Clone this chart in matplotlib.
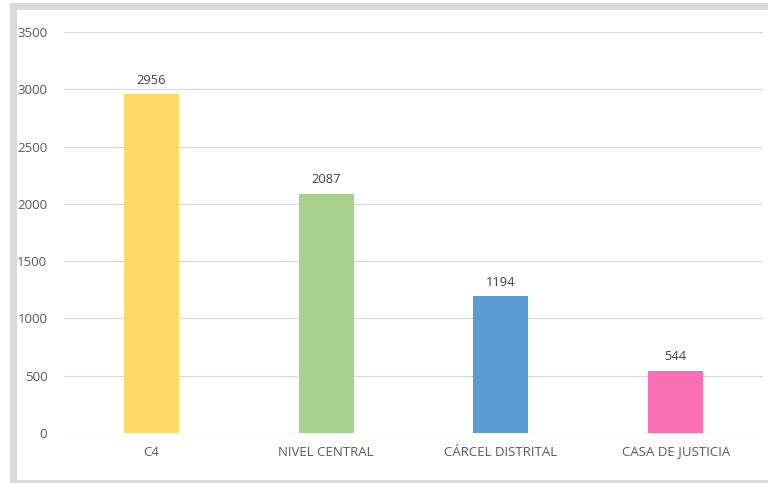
import matplotlib.pyplot as plt
from matplotlib.patches import Rectangle

plt.rcParams["font.family"] = ["Open Sans", "DejaVu Sans"]

categories = ["C4", "NIVEL CENTRAL", "CÁRCEL DISTRITAL", "CASA DE JUSTICIA"]
values = [2956, 2087, 1194, 544]
colors = ["#FFD966", "#A9D18E", "#5B9BD5", "#F96FB5"]
y_ticks = [0, 500, 1000, 1500, 2000, 2500, 3000, 3500]

W, H = 768, 483
fig = plt.figure(figsize=(W / 100, H / 100), dpi=100)
fig.patch.set_facecolor("white")

# grey frame around the plot area
fig.add_artist(Rectangle((10 / W, 0), 1, (H - 3) / H, transform=fig.transFigure,
                         facecolor="#D9D9D9", edgecolor="none", zorder=0))
fig.add_artist(Rectangle((17 / W, 3 / H), 1, (H - 13) / H, transform=fig.transFigure,
                         facecolor="white", edgecolor="none", zorder=0))

ax = fig.add_axes([64 / W, (H - 433) / H, (763 - 64) / W, (433 - 32) / H])
ax.set_facecolor("none")

x = range(len(categories))
ax.bar(x, values, width=0.315, color=colors, zorder=3)
for xi, v in zip(x, values):
    ax.text(xi, v + 65, str(v), ha="center", va="bottom", fontsize=9.3, color="#404040")

ax.set_xlim(-0.5, len(categories) - 0.5)
ax.set_ylim(0, 3500)
ax.set_yticks(y_ticks)
ax.set_xticks(list(x), categories)
ax.grid(axis="y", color="#D9D9D9", linewidth=0.8, zorder=0)
for s in ax.spines.values():
    s.set_visible(False)
ax.tick_params(length=0, labelsize=9.5, labelcolor="#595959")
ax.tick_params(axis="y", pad=12)
ax.tick_params(axis="x", pad=9)

plt.savefig("out.png", dpi=100)
